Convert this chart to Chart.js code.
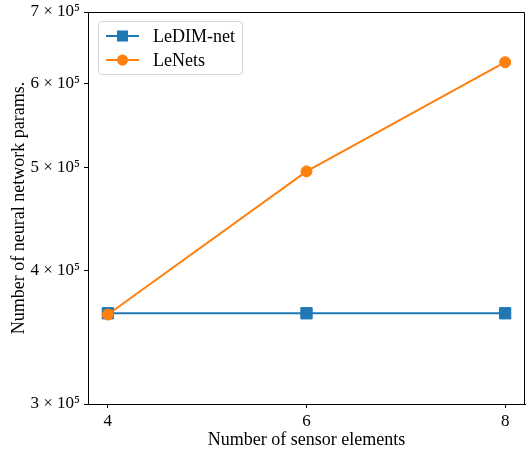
<!DOCTYPE html>
<html>
<head>
<meta charset="utf-8">
<script src="https://cdn.jsdelivr.net/npm/chart.js@4"></script>
<style>
  html, body { margin: 0; padding: 0; background: #fff; }
  #wrap { width: 526px; height: 455px; }
</style>
</head>
<body>
<div id="wrap"><canvas id="paramsChart"></canvas></div>
<script>
// data
const sensorElements = [4, 6, 8];
const ledimParams = [365000, 365000, 365000];
const lenetsParams = [364000, 496000, 628000];
const yTicks = [300000, 400000, 500000, 600000, 700000];
const xTicks = [4, 6, 8];

const FONT = "'Liberation Serif', 'DejaVu Serif', serif";
const supDigits = { "0": "⁰", "1": "¹", "2": "²", "3": "³", "4": "⁴", "5": "⁵", "6": "⁶", "7": "⁷", "8": "⁸", "9": "⁹" };

function sciLabel(v) {
    const exp = Math.floor(Math.log10(v));
    const mant = Math.round(v / Math.pow(10, exp));
    const sup = String(exp).split("").map(d => supDigits[d]).join("");
    return mant + " × 10" + sup;
}

const toPoints = ys => sensorElements.map((x, i) => ({ x: x, y: ys[i] }));

// top and right spines
const frame = {
    id: "frame",
    afterDraw(chart) {
        const a = chart.chartArea;
        const c = chart.ctx;
        c.save();
        c.strokeStyle = "#000";
        c.lineWidth = 1;
        c.beginPath();
        c.moveTo(a.left, a.top + 0.5);
        c.lineTo(a.right - 0.5, a.top + 0.5);
        c.lineTo(a.right - 0.5, a.bottom);
        c.stroke();
        c.restore();
    }
};

// matplotlib-style legend: line + marker inside a rounded box
const mplLegend = {
    id: "mplLegend",
    afterDraw(chart) {
        const c = chart.ctx;
        const a = chart.chartArea;
        const x0 = a.left + 10, y0 = a.top + 9;
        const w = 144, h = 53;
        c.save();
        c.fillStyle = "rgba(255,255,255,0.8)";
        c.strokeStyle = "#d6d6d6";
        c.lineWidth = 1;
        c.beginPath();
        c.roundRect(x0 + 0.5, y0 + 0.5, w, h, 3);
        c.fill();
        c.stroke();
        const items = [chart.data.datasets[0], chart.data.datasets[1]];
        items.forEach((ds, i) => {
            const yy = y0 + 15 + i * 24;
            c.strokeStyle = ds.borderColor;
            c.lineWidth = 2;
            c.beginPath();
            c.moveTo(x0 + 8, yy);
            c.lineTo(x0 + 41, yy);
            c.stroke();
            c.fillStyle = ds.pointBackgroundColor;
            if (ds.pointStyle === "rect") {
                c.fillRect(x0 + 24.5 - 5.5, yy - 5.5, 11, 11);
            } else {
                c.beginPath();
                c.arc(x0 + 24.5, yy, 5.5, 0, Math.PI * 2);
                c.fill();
            }
            c.fillStyle = "#000";
            c.font = "18px " + FONT;
            c.textBaseline = "middle";
            c.fillText(ds.label, x0 + 55, yy + 1);
        });
        c.restore();
    }
};

const ctx = document.getElementById("paramsChart");

new Chart(ctx, {
    type: "line",
    data: {
        datasets: [
            {
                label: "LeDIM-net",
                data: toPoints(ledimParams),
                borderColor: "#1f77b4",
                backgroundColor: "#1f77b4",
                pointBackgroundColor: "#1f77b4",
                pointBorderColor: "#1f77b4",
                pointStyle: "rect",
                pointRadius: 8,
                pointBorderWidth: 1,
                borderWidth: 2,
                order: 1
            },
            {
                label: "LeNets",
                data: toPoints(lenetsParams),
                borderColor: "#ff7f0e",
                backgroundColor: "#ff7f0e",
                pointBackgroundColor: "#ff7f0e",
                pointBorderColor: "#ff7f0e",
                pointStyle: "circle",
                pointRadius: 5.5,
                pointBorderWidth: 1,
                borderWidth: 2,
                order: 0
            }
        ]
    },
    options: {
        responsive: true,
        maintainAspectRatio: false,
        animation: false,
        layout: { autoPadding: false, padding: { top: 12, right: 1, left: 0, bottom: 0 } },
        plugins: {
            legend: { display: false },
            tooltip: { enabled: false }
        },
        scales: {
            x: {
                type: "linear",
                min: 3.8,
                max: 8.2,
                afterBuildTicks: axis => { axis.ticks = xTicks.map(v => ({ value: v })); },
                afterFit: axis => {
                    axis.height = 51;
                    axis.paddingLeft = 0;
                    axis.paddingRight = 0;
                },
                ticks: {
                    color: "#000",
                    font: { family: FONT, size: 17 },
                    padding: 3,
                    maxRotation: 0
                },
                grid: { drawOnChartArea: false, tickLength: 4, color: "#000" },
                border: { color: "#000", width: 1 },
                title: {
                    display: true,
                    text: "Number of sensor elements",
                    color: "#000",
                    font: { family: FONT, size: 18 },
                    padding: { top: 0, bottom: 4 }
                }
            },
            y: {
                type: "logarithmic",
                min: 300000,
                max: 700000,
                afterBuildTicks: axis => { axis.ticks = yTicks.map(v => ({ value: v })); },
                afterFit: axis => {
                    axis.width = 88;
                    axis.paddingTop = 0;
                    axis.paddingBottom = 0;
                },
                ticks: {
                    color: "#000",
                    font: { family: FONT, size: 17 },
                    padding: 4,
                    callback: v => sciLabel(v)
                },
                grid: { drawOnChartArea: false, tickLength: 4, color: "#000" },
                border: { color: "#000", width: 1 },
                title: {
                    display: true,
                    text: "Number of neural network params.",
                    color: "#000",
                    font: { family: FONT, size: 18 },
                    padding: { top: 8, bottom: 0 }
                }
            }
        }
    },
    plugins: [frame, mplLegend]
});
</script>
</body>
</html>
